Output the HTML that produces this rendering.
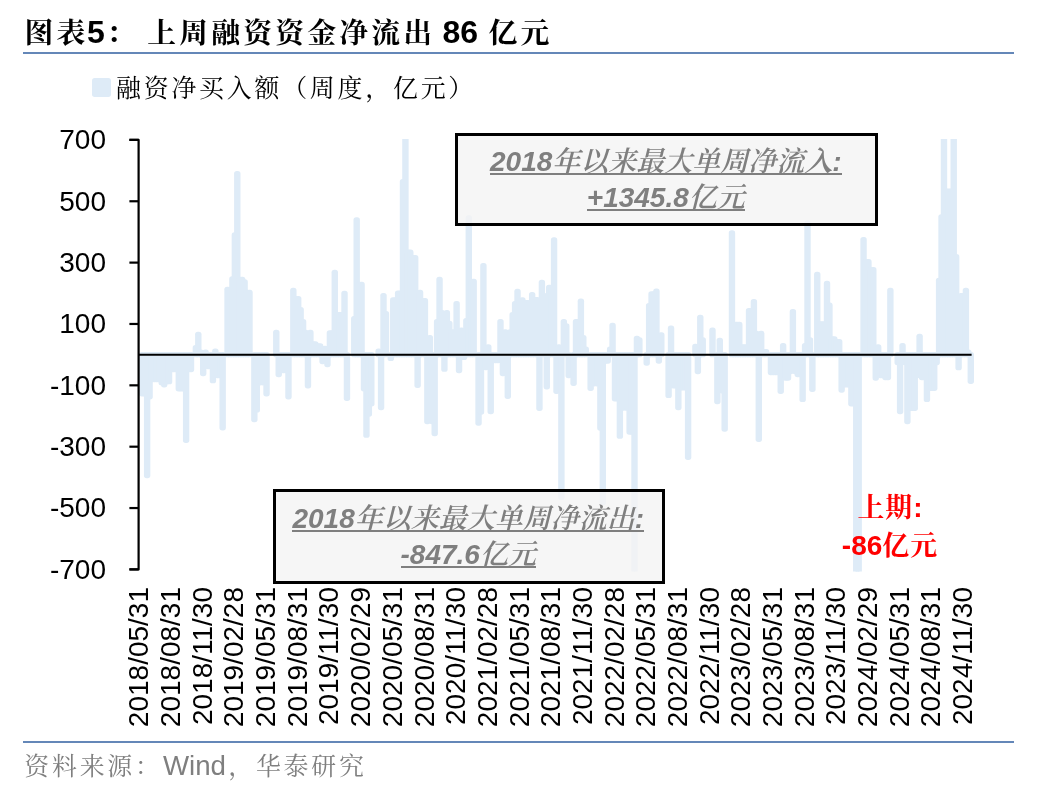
<!DOCTYPE html>
<html lang="zh"><head><meta charset="utf-8"><title>图表5</title>
<style>
html,body{margin:0;padding:0;background:#fff}
body{width:1048px;height:792px;position:relative;overflow:hidden;font-family:"Liberation Sans","Noto Serif CJK SC",serif}
.abs{position:absolute;white-space:nowrap}
.k{font-size:.9em;letter-spacing:.111em;padding-left:.055em;margin-right:-.055em}
.title{left:23px;top:10px;font-size:32px;font-weight:bold;color:#000;line-height:44px;font-family:"Liberation Sans","Noto Serif CJK SC",serif}
.rule{position:absolute;left:22.6px;width:991.4px;height:1.8px;background:#6487b8}
.legend{left:114.7px;top:68px;font-size:27.7px;line-height:40px;color:#000;font-family:"Liberation Sans","Noto Serif CJK SC",serif}
.sw{position:absolute;left:91.7px;top:77.6px;width:19.6px;height:19.7px;background:#deebf7;border-radius:2.7px}
.box{position:absolute;box-sizing:border-box;border:3.5px solid #000;background:rgba(244,244,244,.8);text-align:center;color:#7f7f7f;font-weight:bold;font-style:italic;font-size:28px;line-height:37px;font-family:"Liberation Sans","Noto Serif CJK SC",serif}
.box .k{font-size:1em;letter-spacing:0;padding-left:0;margin-right:0;font-weight:600}
.red .k{font-size:.96em;letter-spacing:.04em;padding-left:0;margin-right:0}
.u{display:inline-block;position:relative;line-height:37px;white-space:nowrap}
.u::after{content:"";position:absolute;left:0;right:0;top:30.3px;height:2px;background:#7f7f7f}
.red{color:#ff0000;font-weight:bold;font-size:28px;line-height:37px;text-align:center;font-family:"Liberation Sans","Noto Serif CJK SC",serif}
.src{left:22.9px;top:746px;font-size:27.7px;line-height:40px;color:#7f7f7f;font-family:"Liberation Sans","Noto Serif CJK SC",serif}
</style></head><body>
<svg width="1048" height="792" viewBox="0 0 1048 792" style="position:absolute;left:0;top:0">
<defs><clipPath id="plot"><rect x="130" y="139.1" width="860" height="432.4"/></clipPath></defs>
<g clip-path="url(#plot)"><g fill="#deebf7" stroke="#deebf7" stroke-width="5.4" stroke-linejoin="round">
<rect x="141.76" y="354.65" width="1" height="39.12"/>
<rect x="144.19" y="354.65" width="1" height="39.12"/>
<rect x="146.63" y="354.65" width="1" height="120.90"/>
<rect x="149.07" y="354.65" width="1" height="42.15"/>
<rect x="151.50" y="354.65" width="1" height="24.97"/>
<rect x="153.94" y="354.65" width="1" height="24.97"/>
<rect x="156.38" y="354.65" width="1" height="24.97"/>
<rect x="158.81" y="354.65" width="1" height="24.97"/>
<rect x="161.25" y="354.65" width="1" height="28.01"/>
<rect x="163.69" y="354.65" width="1" height="30.03"/>
<rect x="166.12" y="354.65" width="1" height="27.00"/>
<rect x="168.56" y="354.65" width="1" height="27.00"/>
<rect x="171.00" y="354.65" width="1" height="14.88"/>
<rect x="173.43" y="354.65" width="1" height="14.88"/>
<rect x="175.87" y="354.65" width="1" height="14.88"/>
<rect x="178.31" y="354.65" width="1" height="34.05"/>
<rect x="180.74" y="354.65" width="1" height="34.05"/>
<rect x="183.18" y="354.65" width="1" height="34.05"/>
<rect x="185.62" y="354.65" width="1" height="85.56"/>
<rect x="188.06" y="354.65" width="1" height="14.88"/>
<rect x="190.49" y="354.65" width="1" height="14.88"/>
<rect x="195.37" y="347.69" width="1" height="6.96"/>
<rect x="197.80" y="334.34" width="1" height="20.31"/>
<rect x="200.24" y="352.13" width="1" height="2.52"/>
<rect x="202.68" y="354.65" width="1" height="18.93"/>
<rect x="205.11" y="352.13" width="1" height="2.52"/>
<rect x="207.55" y="354.65" width="1" height="11.84"/>
<rect x="209.99" y="354.65" width="1" height="11.84"/>
<rect x="212.42" y="354.65" width="1" height="25.98"/>
<rect x="214.86" y="351.12" width="1" height="3.53"/>
<rect x="217.30" y="354.65" width="1" height="20.95"/>
<rect x="219.73" y="354.65" width="1" height="20.95"/>
<rect x="222.17" y="354.65" width="1" height="73.05"/>
<rect x="227.04" y="289.52" width="1" height="65.13"/>
<rect x="229.48" y="289.52" width="1" height="65.13"/>
<rect x="231.92" y="279.03" width="1" height="75.62"/>
<rect x="234.36" y="235.00" width="1" height="119.65"/>
<rect x="236.79" y="173.62" width="1" height="181.03"/>
<rect x="239.23" y="279.43" width="1" height="75.22"/>
<rect x="241.67" y="279.43" width="1" height="75.22"/>
<rect x="244.10" y="281.85" width="1" height="72.80"/>
<rect x="246.54" y="292.56" width="1" height="62.09"/>
<rect x="248.98" y="292.56" width="1" height="62.09"/>
<rect x="253.85" y="354.65" width="1" height="64.95"/>
<rect x="256.29" y="354.65" width="1" height="55.25"/>
<rect x="258.72" y="354.65" width="1" height="28.01"/>
<rect x="261.16" y="354.65" width="1" height="28.01"/>
<rect x="263.60" y="354.65" width="1" height="28.01"/>
<rect x="266.03" y="354.65" width="1" height="39.12"/>
<rect x="275.78" y="332.35" width="1" height="22.30"/>
<rect x="278.22" y="354.65" width="1" height="19.94"/>
<rect x="280.66" y="354.65" width="1" height="15.89"/>
<rect x="283.09" y="354.65" width="1" height="15.89"/>
<rect x="285.53" y="354.65" width="1" height="15.89"/>
<rect x="287.97" y="354.65" width="1" height="42.15"/>
<rect x="292.84" y="290.53" width="1" height="64.12"/>
<rect x="295.28" y="298.60" width="1" height="56.05"/>
<rect x="297.71" y="298.60" width="1" height="56.05"/>
<rect x="300.15" y="309.71" width="1" height="44.94"/>
<rect x="302.59" y="321.82" width="1" height="32.83"/>
<rect x="305.02" y="332.53" width="1" height="22.12"/>
<rect x="307.46" y="354.65" width="1" height="31.05"/>
<rect x="309.90" y="332.53" width="1" height="22.12"/>
<rect x="312.33" y="344.04" width="1" height="10.61"/>
<rect x="314.77" y="344.04" width="1" height="10.61"/>
<rect x="317.21" y="346.06" width="1" height="8.59"/>
<rect x="319.64" y="346.06" width="1" height="8.59"/>
<rect x="322.08" y="354.65" width="1" height="6.81"/>
<rect x="324.52" y="348.48" width="1" height="6.17"/>
<rect x="326.96" y="354.65" width="1" height="9.85"/>
<rect x="329.39" y="332.93" width="1" height="21.72"/>
<rect x="331.83" y="332.93" width="1" height="21.72"/>
<rect x="334.27" y="272.37" width="1" height="82.28"/>
<rect x="336.70" y="314.77" width="1" height="39.88"/>
<rect x="339.14" y="314.77" width="1" height="39.88"/>
<rect x="341.58" y="314.77" width="1" height="39.88"/>
<rect x="344.01" y="293.57" width="1" height="61.08"/>
<rect x="346.45" y="354.65" width="1" height="43.56"/>
<rect x="353.76" y="318.82" width="1" height="35.83"/>
<rect x="356.20" y="219.85" width="1" height="134.80"/>
<rect x="358.63" y="284.49" width="1" height="70.16"/>
<rect x="361.07" y="284.49" width="1" height="70.16"/>
<rect x="363.51" y="354.65" width="1" height="34.05"/>
<rect x="365.94" y="354.65" width="1" height="80.50"/>
<rect x="368.38" y="354.65" width="1" height="59.30"/>
<rect x="370.82" y="354.65" width="1" height="49.21"/>
<rect x="378.13" y="351.12" width="1" height="3.53"/>
<rect x="380.57" y="354.65" width="1" height="52.83"/>
<rect x="383.00" y="295.59" width="1" height="59.06"/>
<rect x="385.44" y="313.76" width="1" height="40.89"/>
<rect x="390.31" y="354.65" width="1" height="3.77"/>
<rect x="392.75" y="300.04" width="1" height="54.61"/>
<rect x="395.19" y="300.04" width="1" height="54.61"/>
<rect x="397.62" y="293.17" width="1" height="61.48"/>
<rect x="400.06" y="293.17" width="1" height="61.48"/>
<rect x="402.50" y="181.71" width="1" height="172.94"/>
<rect x="404.93" y="136.07" width="1" height="218.58"/>
<rect x="407.37" y="252.18" width="1" height="102.47"/>
<rect x="409.81" y="252.18" width="1" height="102.47"/>
<rect x="412.24" y="257.61" width="1" height="97.04"/>
<rect x="414.68" y="257.61" width="1" height="97.04"/>
<rect x="417.12" y="354.65" width="1" height="30.62"/>
<rect x="419.56" y="292.56" width="1" height="62.09"/>
<rect x="421.99" y="300.63" width="1" height="54.02"/>
<rect x="424.43" y="300.63" width="1" height="54.02"/>
<rect x="426.87" y="354.65" width="1" height="66.97"/>
<rect x="429.30" y="337.59" width="1" height="17.06"/>
<rect x="431.74" y="354.65" width="1" height="66.97"/>
<rect x="434.18" y="354.65" width="1" height="78.91"/>
<rect x="436.61" y="321.82" width="1" height="32.83"/>
<rect x="439.05" y="279.43" width="1" height="75.22"/>
<rect x="441.49" y="312.74" width="1" height="41.91"/>
<rect x="443.92" y="354.65" width="1" height="14.48"/>
<rect x="446.36" y="312.74" width="1" height="41.91"/>
<rect x="448.80" y="323.45" width="1" height="31.20"/>
<rect x="451.23" y="331.92" width="1" height="22.73"/>
<rect x="453.67" y="331.92" width="1" height="22.73"/>
<rect x="456.11" y="303.66" width="1" height="50.99"/>
<rect x="458.54" y="354.65" width="1" height="15.89"/>
<rect x="460.98" y="330.32" width="1" height="24.33"/>
<rect x="463.42" y="354.65" width="1" height="2.76"/>
<rect x="465.86" y="320.81" width="1" height="33.84"/>
<rect x="468.29" y="217.85" width="1" height="136.80"/>
<rect x="470.73" y="281.45" width="1" height="73.20"/>
<rect x="473.17" y="281.45" width="1" height="73.20"/>
<rect x="478.04" y="354.65" width="1" height="68.38"/>
<rect x="480.48" y="354.65" width="1" height="57.28"/>
<rect x="482.91" y="265.71" width="1" height="88.94"/>
<rect x="485.35" y="354.65" width="1" height="12.85"/>
<rect x="487.79" y="347.07" width="1" height="7.58"/>
<rect x="490.22" y="354.65" width="1" height="56.88"/>
<rect x="492.66" y="354.65" width="1" height="5.80"/>
<rect x="495.10" y="354.65" width="1" height="5.80"/>
<rect x="497.53" y="354.65" width="1" height="5.80"/>
<rect x="499.97" y="321.82" width="1" height="32.83"/>
<rect x="502.41" y="354.65" width="1" height="18.93"/>
<rect x="504.84" y="331.92" width="1" height="22.73"/>
<rect x="507.28" y="354.65" width="1" height="41.54"/>
<rect x="509.72" y="331.92" width="1" height="22.73"/>
<rect x="512.16" y="314.77" width="1" height="39.88"/>
<rect x="514.59" y="303.66" width="1" height="50.99"/>
<rect x="517.03" y="291.54" width="1" height="63.11"/>
<rect x="519.47" y="302.65" width="1" height="52.00"/>
<rect x="521.90" y="300.04" width="1" height="54.61"/>
<rect x="524.34" y="302.65" width="1" height="52.00"/>
<rect x="526.78" y="302.65" width="1" height="52.00"/>
<rect x="529.21" y="302.65" width="1" height="52.00"/>
<rect x="531.65" y="294.58" width="1" height="60.07"/>
<rect x="534.09" y="299.61" width="1" height="55.04"/>
<rect x="536.52" y="299.61" width="1" height="55.04"/>
<rect x="538.96" y="354.65" width="1" height="53.66"/>
<rect x="541.40" y="282.46" width="1" height="72.19"/>
<rect x="543.83" y="295.59" width="1" height="59.06"/>
<rect x="546.27" y="354.65" width="1" height="32.06"/>
<rect x="548.71" y="287.49" width="1" height="67.16"/>
<rect x="551.14" y="287.49" width="1" height="67.16"/>
<rect x="553.58" y="240.07" width="1" height="114.58"/>
<rect x="556.02" y="354.65" width="1" height="36.69"/>
<rect x="558.46" y="347.07" width="1" height="7.58"/>
<rect x="560.89" y="354.65" width="1" height="142.50"/>
<rect x="563.33" y="321.82" width="1" height="32.83"/>
<rect x="565.77" y="325.87" width="1" height="28.78"/>
<rect x="568.20" y="354.65" width="1" height="20.95"/>
<rect x="573.08" y="354.65" width="1" height="28.62"/>
<rect x="575.51" y="321.82" width="1" height="32.83"/>
<rect x="577.95" y="321.82" width="1" height="32.83"/>
<rect x="580.39" y="301.24" width="1" height="53.41"/>
<rect x="582.82" y="337.59" width="1" height="17.06"/>
<rect x="585.26" y="349.10" width="1" height="5.55"/>
<rect x="590.13" y="354.65" width="1" height="33.65"/>
<rect x="592.57" y="354.65" width="1" height="29.02"/>
<rect x="595.01" y="354.65" width="1" height="29.02"/>
<rect x="597.44" y="354.65" width="1" height="29.02"/>
<rect x="599.88" y="354.65" width="1" height="73.44"/>
<rect x="602.32" y="354.65" width="1" height="147.75"/>
<rect x="604.76" y="354.65" width="1" height="6.41"/>
<rect x="607.19" y="354.65" width="1" height="6.41"/>
<rect x="609.63" y="349.10" width="1" height="5.55"/>
<rect x="612.07" y="325.47" width="1" height="29.18"/>
<rect x="614.50" y="354.65" width="1" height="44.15"/>
<rect x="616.94" y="354.65" width="1" height="44.15"/>
<rect x="619.38" y="354.65" width="1" height="81.51"/>
<rect x="621.81" y="354.65" width="1" height="53.26"/>
<rect x="624.25" y="354.65" width="1" height="53.26"/>
<rect x="626.69" y="354.65" width="1" height="53.26"/>
<rect x="629.12" y="354.65" width="1" height="77.46"/>
<rect x="631.56" y="354.65" width="1" height="77.46"/>
<rect x="634.00" y="354.65" width="1" height="232.94"/>
<rect x="636.43" y="338.39" width="1" height="16.26"/>
<rect x="638.87" y="340.02" width="1" height="14.63"/>
<rect x="646.18" y="354.65" width="1" height="8.41"/>
<rect x="648.62" y="305.69" width="1" height="48.96"/>
<rect x="651.06" y="293.97" width="1" height="60.68"/>
<rect x="653.49" y="293.97" width="1" height="60.68"/>
<rect x="655.93" y="291.15" width="1" height="63.50"/>
<rect x="658.37" y="354.65" width="1" height="6.41"/>
<rect x="660.80" y="334.95" width="1" height="19.70"/>
<rect x="668.11" y="354.65" width="1" height="40.74"/>
<rect x="670.55" y="328.30" width="1" height="26.35"/>
<rect x="672.99" y="354.65" width="1" height="31.05"/>
<rect x="675.42" y="354.65" width="1" height="31.05"/>
<rect x="677.86" y="354.65" width="1" height="52.83"/>
<rect x="680.30" y="354.65" width="1" height="33.04"/>
<rect x="682.73" y="354.65" width="1" height="33.04"/>
<rect x="685.17" y="354.65" width="1" height="33.04"/>
<rect x="687.61" y="354.65" width="1" height="102.71"/>
<rect x="694.92" y="346.46" width="1" height="8.19"/>
<rect x="697.36" y="354.65" width="1" height="16.90"/>
<rect x="699.79" y="317.41" width="1" height="37.24"/>
<rect x="702.23" y="340.02" width="1" height="14.63"/>
<rect x="711.98" y="330.32" width="1" height="24.33"/>
<rect x="716.85" y="354.65" width="1" height="46.78"/>
<rect x="719.29" y="340.42" width="1" height="14.23"/>
<rect x="721.72" y="354.65" width="1" height="36.08"/>
<rect x="724.16" y="354.65" width="1" height="74.46"/>
<rect x="731.47" y="232.98" width="1" height="121.67"/>
<rect x="733.91" y="324.46" width="1" height="30.19"/>
<rect x="736.34" y="324.46" width="1" height="30.19"/>
<rect x="738.78" y="324.46" width="1" height="30.19"/>
<rect x="741.22" y="347.07" width="1" height="7.58"/>
<rect x="743.66" y="347.07" width="1" height="7.58"/>
<rect x="746.09" y="347.07" width="1" height="7.58"/>
<rect x="748.53" y="310.72" width="1" height="43.93"/>
<rect x="750.97" y="310.72" width="1" height="43.93"/>
<rect x="753.40" y="301.64" width="1" height="53.01"/>
<rect x="755.84" y="333.54" width="1" height="21.11"/>
<rect x="758.28" y="354.65" width="1" height="84.55"/>
<rect x="760.71" y="333.54" width="1" height="21.11"/>
<rect x="763.15" y="351.70" width="1" height="2.95"/>
<rect x="765.59" y="351.70" width="1" height="2.95"/>
<rect x="770.46" y="354.65" width="1" height="17.92"/>
<rect x="772.90" y="354.65" width="1" height="17.92"/>
<rect x="775.33" y="354.65" width="1" height="17.92"/>
<rect x="777.77" y="354.65" width="1" height="17.92"/>
<rect x="780.21" y="354.65" width="1" height="36.69"/>
<rect x="782.64" y="345.66" width="1" height="8.99"/>
<rect x="785.08" y="354.65" width="1" height="23.35"/>
<rect x="787.52" y="354.65" width="1" height="23.35"/>
<rect x="789.96" y="354.65" width="1" height="16.90"/>
<rect x="792.39" y="311.73" width="1" height="42.92"/>
<rect x="794.83" y="354.65" width="1" height="16.90"/>
<rect x="797.27" y="354.65" width="1" height="19.94"/>
<rect x="799.70" y="354.65" width="1" height="19.94"/>
<rect x="802.14" y="354.65" width="1" height="44.76"/>
<rect x="804.58" y="345.66" width="1" height="8.99"/>
<rect x="807.01" y="222.89" width="1" height="131.76"/>
<rect x="809.45" y="340.02" width="1" height="14.63"/>
<rect x="811.89" y="354.65" width="1" height="34.67"/>
<rect x="816.76" y="274.39" width="1" height="80.26"/>
<rect x="819.20" y="323.85" width="1" height="30.80"/>
<rect x="821.63" y="323.85" width="1" height="30.80"/>
<rect x="824.07" y="323.85" width="1" height="30.80"/>
<rect x="826.51" y="283.48" width="1" height="71.17"/>
<rect x="828.94" y="305.29" width="1" height="49.36"/>
<rect x="831.38" y="339.00" width="1" height="15.65"/>
<rect x="833.82" y="339.00" width="1" height="15.65"/>
<rect x="836.26" y="341.61" width="1" height="13.04"/>
<rect x="838.69" y="341.61" width="1" height="13.04"/>
<rect x="841.13" y="354.65" width="1" height="35.46"/>
<rect x="843.57" y="354.65" width="1" height="30.03"/>
<rect x="846.00" y="354.65" width="1" height="30.03"/>
<rect x="848.44" y="354.65" width="1" height="30.03"/>
<rect x="850.88" y="354.65" width="1" height="49.21"/>
<rect x="853.31" y="354.65" width="1" height="49.21"/>
<rect x="855.75" y="354.65" width="1" height="232.94"/>
<rect x="858.19" y="354.65" width="1" height="232.94"/>
<rect x="863.06" y="239.67" width="1" height="114.98"/>
<rect x="865.50" y="261.66" width="1" height="92.99"/>
<rect x="867.93" y="261.66" width="1" height="92.99"/>
<rect x="870.37" y="269.73" width="1" height="84.92"/>
<rect x="872.81" y="269.73" width="1" height="84.92"/>
<rect x="875.24" y="354.65" width="1" height="23.35"/>
<rect x="877.68" y="347.07" width="1" height="7.58"/>
<rect x="880.12" y="354.65" width="1" height="20.95"/>
<rect x="882.56" y="354.65" width="1" height="20.95"/>
<rect x="884.99" y="354.65" width="1" height="22.95"/>
<rect x="887.43" y="354.65" width="1" height="22.95"/>
<rect x="889.87" y="290.53" width="1" height="64.12"/>
<rect x="897.18" y="354.65" width="1" height="7.82"/>
<rect x="899.61" y="354.65" width="1" height="56.88"/>
<rect x="902.05" y="345.66" width="1" height="8.99"/>
<rect x="904.49" y="354.65" width="1" height="7.82"/>
<rect x="906.92" y="354.65" width="1" height="66.97"/>
<rect x="909.36" y="354.65" width="1" height="53.66"/>
<rect x="911.80" y="354.65" width="1" height="53.66"/>
<rect x="914.23" y="354.65" width="1" height="53.66"/>
<rect x="916.67" y="354.65" width="1" height="20.95"/>
<rect x="919.11" y="336.37" width="1" height="18.28"/>
<rect x="921.54" y="354.65" width="1" height="22.95"/>
<rect x="923.98" y="354.65" width="1" height="22.95"/>
<rect x="926.42" y="354.65" width="1" height="44.76"/>
<rect x="928.86" y="354.65" width="1" height="33.65"/>
<rect x="931.29" y="354.65" width="1" height="33.65"/>
<rect x="933.73" y="354.65" width="1" height="33.65"/>
<rect x="936.17" y="354.65" width="1" height="7.82"/>
<rect x="938.60" y="280.44" width="1" height="74.21"/>
<rect x="941.04" y="216.84" width="1" height="137.81"/>
<rect x="943.48" y="121.92" width="1" height="232.73"/>
<rect x="945.91" y="191.19" width="1" height="163.46"/>
<rect x="948.35" y="191.19" width="1" height="163.46"/>
<rect x="950.79" y="191.19" width="1" height="163.46"/>
<rect x="953.22" y="121.92" width="1" height="232.73"/>
<rect x="955.66" y="256.82" width="1" height="97.83"/>
<rect x="958.10" y="354.65" width="1" height="13.01"/>
<rect x="960.53" y="295.59" width="1" height="59.06"/>
<rect x="962.97" y="295.59" width="1" height="59.06"/>
<rect x="965.41" y="290.53" width="1" height="64.12"/>
<rect x="967.84" y="352.13" width="1" height="2.52"/>
<rect x="970.28" y="354.65" width="1" height="26.72"/>
</g></g>
<g stroke="#000" stroke-width="2.2" fill="none">
<path d="M129.4 139.90 H138.6 V569.40 H129.4" stroke-linejoin="round"/>
<path d="M129.4 569.40 H138.6"/>
<path d="M129.4 508.04 H138.6"/>
<path d="M129.4 446.69 H138.6"/>
<path d="M129.4 385.33 H138.6"/>
<path d="M129.4 323.97 H138.6"/>
<path d="M129.4 262.61 H138.6"/>
<path d="M129.4 201.26 H138.6"/>
<path d="M129.4 139.90 H138.6"/>
<path d="M138.6 354.65 H971.6" stroke-width="2"/>
</g>
<g font-family="'Liberation Sans', sans-serif" font-size="28" fill="#000" text-anchor="end">
<text x="106" y="578.80">-700</text>
<text x="106" y="517.44">-500</text>
<text x="106" y="456.09">-300</text>
<text x="106" y="394.73">-100</text>
<text x="106" y="333.37">100</text>
<text x="106" y="272.01">300</text>
<text x="106" y="210.66">500</text>
<text x="106" y="149.30">700</text>
</g>
<g font-family="'Liberation Sans', sans-serif" font-size="28" fill="#000" text-anchor="end">
<text transform="translate(148.42 587) rotate(-90)">2018/05/31</text>
<text transform="translate(180.10 587) rotate(-90)">2018/08/31</text>
<text transform="translate(211.78 587) rotate(-90)">2018/11/30</text>
<text transform="translate(243.46 587) rotate(-90)">2019/02/28</text>
<text transform="translate(275.13 587) rotate(-90)">2019/05/31</text>
<text transform="translate(306.81 587) rotate(-90)">2019/08/31</text>
<text transform="translate(338.49 587) rotate(-90)">2019/11/30</text>
<text transform="translate(370.17 587) rotate(-90)">2020/02/29</text>
<text transform="translate(401.85 587) rotate(-90)">2020/05/31</text>
<text transform="translate(433.53 587) rotate(-90)">2020/08/31</text>
<text transform="translate(465.21 587) rotate(-90)">2020/11/30</text>
<text transform="translate(496.89 587) rotate(-90)">2021/02/28</text>
<text transform="translate(528.57 587) rotate(-90)">2021/05/31</text>
<text transform="translate(560.24 587) rotate(-90)">2021/08/31</text>
<text transform="translate(591.92 587) rotate(-90)">2021/11/30</text>
<text transform="translate(623.60 587) rotate(-90)">2022/02/28</text>
<text transform="translate(655.28 587) rotate(-90)">2022/05/31</text>
<text transform="translate(686.96 587) rotate(-90)">2022/08/31</text>
<text transform="translate(718.64 587) rotate(-90)">2022/11/30</text>
<text transform="translate(750.32 587) rotate(-90)">2023/02/28</text>
<text transform="translate(782.00 587) rotate(-90)">2023/05/31</text>
<text transform="translate(813.68 587) rotate(-90)">2023/08/31</text>
<text transform="translate(845.36 587) rotate(-90)">2023/11/30</text>
<text transform="translate(877.03 587) rotate(-90)">2024/02/29</text>
<text transform="translate(908.71 587) rotate(-90)">2024/05/31</text>
<text transform="translate(940.39 587) rotate(-90)">2024/08/31</text>
<text transform="translate(972.07 587) rotate(-90)">2024/11/30</text>
</g>
</svg>
<div class="abs title"><span class="k">图表</span>5<span class="k">：</span> <span class="k">上周融资资金净流出</span> 86 <span class="k">亿元</span></div>
<div class="rule" style="top:52.3px"></div>
<div class="sw"></div>
<div class="abs legend"><span class="k">融资净买入额（周度，亿元）</span></div>
<div class="box" style="left:455px;top:133px;width:423.3px;height:93px;padding-top:7.2px;padding-right:1.7px;border-width:3.3px"><span class="u">2018<span class="k">年以来最大单周净流入</span>:</span><br><span class="u" style="top:-1px">+1345.8<span class="k">亿元</span></span></div>
<div class="box" style="left:273.4px;top:489.4px;width:391.4px;height:94.3px;padding-top:7.6px;padding-right:1.7px;border-width:3.8px"><span class="u">2018<span class="k">年以来最大单周净流出</span>:</span><br><span class="u" style="top:-1px">-847.6<span class="k">亿元</span></span></div>
<div class="abs red" style="left:830px;width:120px;top:488.5px"><span class="k">上期</span>:<br>-86<span class="k">亿元</span></div>
<div class="rule" style="top:740.9px"></div>
<div class="abs src"><span class="k">资料来源：</span><span style="margin-left:1.6px;margin-right:.8px">Wind</span><span class="k">，华泰研究</span></div>
</body></html>
